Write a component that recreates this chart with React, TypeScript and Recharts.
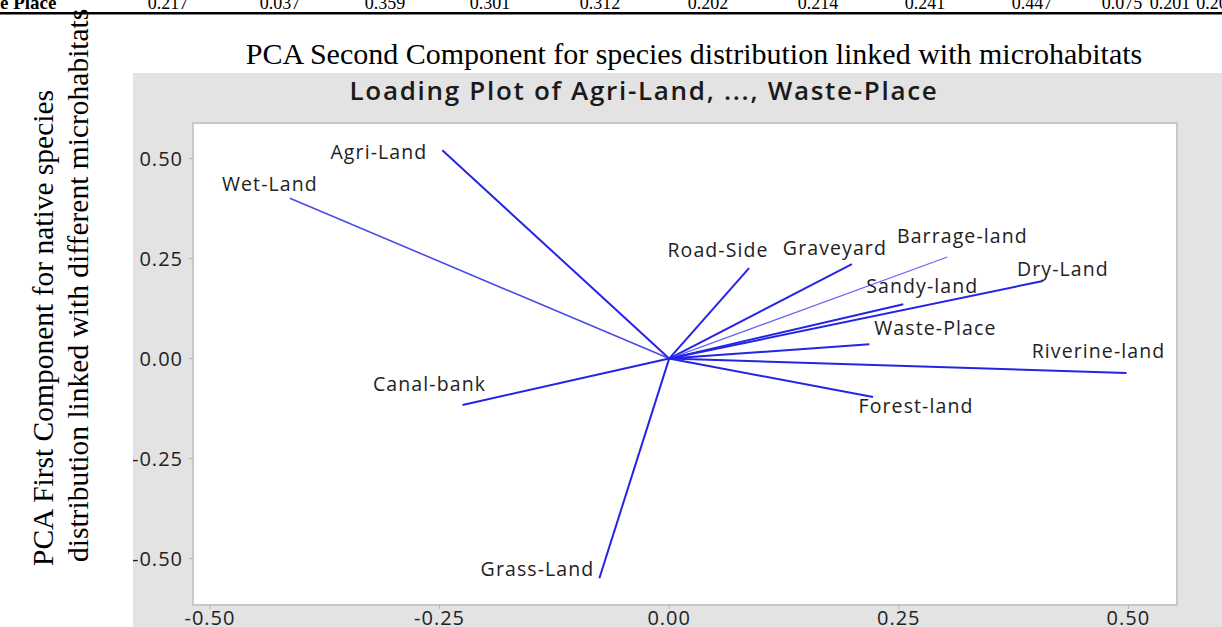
import React from 'react'
import { LineChart, Line, XAxis, YAxis, LabelList } from 'recharts'

// loadings (x = second component, y = first component)
const habitats = [
  'Agri-Land', 'Wet-Land', 'Road-Side', 'Graveyard', 'Barrage-land', 'Dry-Land',
  'Sandy-land', 'Waste-Place', 'Riverine-land', 'Forest-land', 'Canal-bank', 'Grass-Land',
]
const secondComponent = [-0.247, -0.413, 0.087, 0.199, 0.303, 0.407, 0.255, 0.218, 0.498, 0.222, -0.225, -0.076]
const firstComponent = [0.521, 0.401, 0.226, 0.236, 0.254, 0.194, 0.136, 0.036, -0.036, -0.096, -0.116, -0.549]

const xTicks = [-0.5, -0.25, 0, 0.25, 0.5]
const yTicks = [-0.5, -0.25, 0, 0.25, 0.5]

// the cut-off table row above the figure
const tableRowLabel = 'e Place'
const tableRowValues = ['0.217', '0.037', '0.359', '0.301', '0.312', '0.202', '0.214', '0.241', '0.447', '0.075', '0.201', '0.20']
const tableRowX = [168, 280, 385, 490, 600, 708, 818, 925, 1032, 1122, 1170, 1212]

// label placement relative to the end of each arrow
const labelPos: Record<string, { dx: number; dy: number; anchor: 'start' | 'middle' | 'end' }> = {
  'Agri-Land': { dx: -15, dy: 1, anchor: 'end' },
  'Wet-Land': { dx: -20, dy: -15, anchor: 'middle' },
  'Road-Side': { dx: -31, dy: -19, anchor: 'middle' },
  'Graveyard': { dx: -17, dy: -17, anchor: 'middle' },
  'Barrage-land': { dx: 15, dy: -22, anchor: 'middle' },
  'Dry-Land': { dx: 20, dy: -13, anchor: 'middle' },
  'Sandy-land': { dx: 19, dy: -19, anchor: 'middle' },
  'Waste-Place': { dx: 66, dy: -17, anchor: 'middle' },
  'Riverine-land': { dx: -28, dy: -23, anchor: 'middle' },
  'Forest-land': { dx: 43, dy: 8, anchor: 'middle' },
  'Canal-bank': { dx: -33, dy: -22, anchor: 'middle' },
  'Grass-Land': { dx: -5, dy: -10, anchor: 'end' },
}

const lineStyle: Record<string, { color: string; width: number }> = {
  'Wet-Land': { color: '#4a4ae8', width: 1.6 },
  'Barrage-land': { color: '#6b6bf5', width: 1.3 },
}

const labelFont = "'Open Sans', 'Noto Sans', sans-serif"
const serif = "'Liberation Serif', 'Times New Roman', serif"

export default function App() {
  const series = habitats.map((name, i) => ({
    name,
    data: [
      { x: 0, y: 0 },
      { x: secondComponent[i], y: firstComponent[i] },
    ],
  }))

  return (
    <div style={{ position: 'absolute', left: 0, top: 0, width: 1222, height: 627, overflow: 'hidden', background: '#fff' }}>
      {/* gray panel and white plot area */}
      <div style={{ position: 'absolute', left: 133, top: 73, width: 1089, height: 554, background: '#e3e3e3' }} />
      <div
        style={{
          position: 'absolute', left: 192, top: 122, width: 986, height: 484,
          background: '#fff', border: '2px solid #c8c8c8', boxSizing: 'border-box',
        }}
      />

      <svg width={1222} height={627} style={{ position: 'absolute', left: 0, top: 0 }}>
        <text x={0} y={9} fontFamily={serif} fontWeight="bold" fontSize={19} fill="#000">{tableRowLabel}</text>
        {tableRowValues.map((v, i) => (
          <text key={i} x={tableRowX[i]} y={9} textAnchor="middle" fontFamily={serif} fontSize={18} fill="#000">{v}</text>
        ))}
        <rect x={0} y={12} width={1222} height={2.5} fill="#000" />

        <text x={694} y={64} textAnchor="middle" fontFamily={serif} fontSize={30} fill="#000">
          PCA Second Component for species distribution linked with microhabitats
        </text>
        <text transform="translate(53,566) rotate(-90)" fontFamily={serif} fontSize={29.5} fill="#000">
          PCA First Component for native species
        </text>
        <text transform="translate(88,562) rotate(-90)" fontFamily={serif} fontSize={29.5} fill="#000">
          distribution linked with different microhabitats
        </text>

        <text
          x={644}
          y={100}
          textAnchor="middle"
          fontFamily={labelFont}
          fontWeight={600}
          fontSize={26}
          letterSpacing={1.7}
          fill="#1a1a1a"
        >
          Loading Plot of Agri-Land, ..., Waste-Place
        </text>
      </svg>

      <div style={{ position: 'absolute', left: 133, top: 73 }}>
        <LineChart width={1089} height={554} margin={{ top: 50, right: 45, left: 0, bottom: 0 }}>
          <XAxis
            type="number"
            dataKey="x"
            domain={[-0.5185, 0.553]}
            ticks={xTicks}
            allowDataOverflow
            axisLine={false}
            tickLine={{ stroke: '#b4b4b4' }}
            tickSize={4}
            tickMargin={2}
            height={22}
            tickFormatter={(v: number) => v.toFixed(2)}
            tick={{ fontSize: 20, fill: '#222', fontFamily: labelFont, letterSpacing: 1 }}
          />
          <YAxis
            type="number"
            dataKey="y"
            domain={[-0.616, 0.589]}
            ticks={yTicks}
            allowDataOverflow
            axisLine={false}
            tickLine={{ stroke: '#b4b4b4' }}
            tickSize={4}
            tickMargin={6}
            width={60}
            tickFormatter={(v: number) => v.toFixed(2)}
            tick={{ fontSize: 20, fill: '#222', fontFamily: labelFont, letterSpacing: 1 }}
          />
          {series.map((s) => {
            const st = lineStyle[s.name] || { color: '#2424e6', width: 2 }
            const pos = labelPos[s.name]
            return (
              <Line
                key={s.name}
                data={s.data}
                dataKey="y"
                type="linear"
                stroke={st.color}
                strokeWidth={st.width}
                dot={false}
                activeDot={false}
                isAnimationActive={false}
              >
                <LabelList
                  dataKey="y"
                  content={(p: any) =>
                    p.index === 1 ? (
                      <text
                        x={Number(p.x) + pos.dx}
                        y={Number(p.y) + pos.dy}
                        textAnchor={pos.anchor}
                        dominantBaseline="central"
                        fontFamily={labelFont}
                        fontSize={19.5}
                        letterSpacing={1.1}
                        fill="#222"
                      >
                        {s.name}
                      </text>
                    ) : null
                  }
                />
              </Line>
            )
          })}
        </LineChart>
      </div>
    </div>
  )
}
